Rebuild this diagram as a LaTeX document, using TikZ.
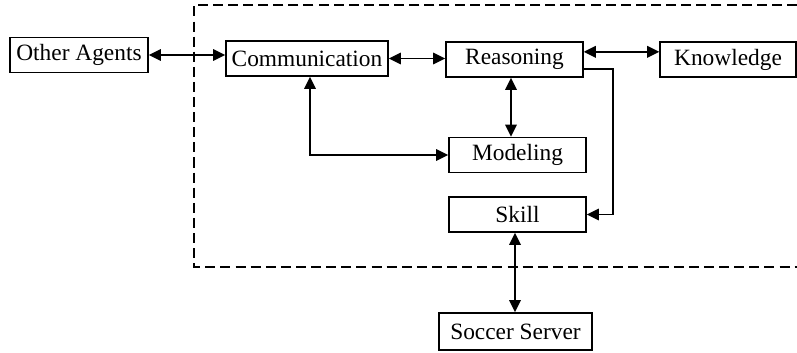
\documentclass[tikz,border=0pt]{standalone}
\usepackage{fontspec}
\setmainfont{Liberation Serif}
\usetikzlibrary{arrows.meta,calc}
\begin{document}
\begin{tikzpicture}[x=0.02cm,y=-0.02cm,
    font=\fontsize{13.3}{16}\selectfont,
    box/.style={draw,line width=0.9pt,inner sep=0pt,minimum height=0.7cm},
    link/.style={line width=1pt,{Triangle[length=2.4mm,width=2.3mm]}-{Triangle[length=2.4mm,width=2.3mm]}},
    oneway/.style={line width=1pt,-{Triangle[length=2.4mm,width=2.3mm]}}]
                \useasboundingbox (0,0) rectangle (797,352);
                % agent boundary (open on the right)
                \draw[line width=0.9pt,dash pattern=on 5.7pt off 2.9pt] (797,5) -- (194,5) -- (194,267) -- (797,267);
                \node[box,minimum width=2.76cm] (agents) at (79,55) {Other Agents};
                \node[box,minimum width=3.24cm] (comm) at (307,58.5) {Communication};
                \node[box,minimum width=2.74cm] (reas) at (514.5,59.5) {Reasoning};
                \node[box,minimum width=2.72cm] (know) at (728,59.5) {Knowledge};
                \node[box,minimum width=2.74cm] (model) at (517.5,155) {Modeling};
                \node[box,minimum width=2.74cm] (skill) at (517.5,214.5) {Skill};
                \node[box,minimum width=3.06cm,minimum height=0.74cm] (server) at (515.5,331.5) {Soccer Server};
                \draw[link] (agents.east) -- (agents.east -| comm.west);
                \draw[link] (comm.east) -- (comm.east -| reas.west);
                \draw[link] ($(reas.north east)!0.29!(reas.south east)$) coordinate (rk) -- (rk -| know.west);
                \draw[link] ([xshift=-0.07cm]reas.south) -- ([xshift=-0.07cm]reas.south |- model.north);
                \draw[link] ([xshift=0.06cm]comm.south) |- (model.west);
                \draw[oneway] ($(reas.north east)!0.77!(reas.south east)$) -- ++(29,0) |- (skill.east);
                \draw[link] ([xshift=-0.05cm]skill.south) -- ([xshift=-0.05cm]skill.south |- server.north);
            \end{tikzpicture}
\end{document}
